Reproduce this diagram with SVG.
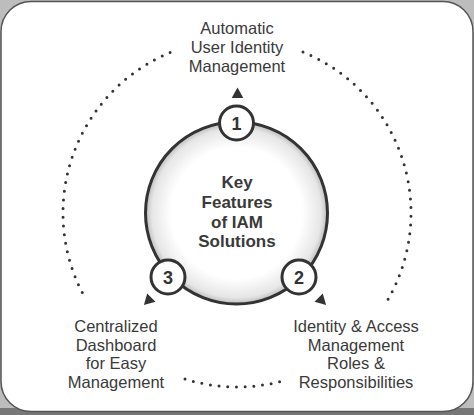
<svg xmlns="http://www.w3.org/2000/svg" width="474" height="415" viewBox="0 0 474 415">
<defs>
<radialGradient id="hub" cx="0.5" cy="0.5" r="0.5">
<stop offset="0.72" stop-color="#ffffff"/>
<stop offset="0.93" stop-color="#e6e6e6"/>
<stop offset="1" stop-color="#bdbdbd"/>
</radialGradient>
<path id="tri" d="M0,-6.5 L5.8,4 L-5.8,4 Z"/>
</defs>
<style>
.lbl{font-family:"Liberation Sans",Arial,sans-serif;font-size:16.5px;fill:#3a3a3a;text-anchor:middle}
.hubt{font-family:"Liberation Sans",Arial,sans-serif;font-size:17px;font-weight:bold;fill:#3a3a3a;text-anchor:middle}
.num{font-family:"Liberation Sans",Arial,sans-serif;font-size:18px;font-weight:bold;fill:#333;text-anchor:middle}
.dots{fill:none;stroke:#333;stroke-width:3;stroke-linecap:round;stroke-dasharray:0 8.7}
.badge{fill:#fff;stroke:#333;stroke-width:3}
.arrow{fill:#333}
</style>
<rect x="0" y="0" width="474" height="415" fill="#bdbdbd"/>
<rect x="0" y="408" width="474" height="7" fill="#777"/>
<rect x="1" y="1.5" width="472" height="410" rx="30" fill="#fff" stroke="#555" stroke-width="1.5"/>
<g id="connectors">
<path class="dots" d="M170.1,52.4 A174,174 0 0 0 84.8,297.4"/>
<path class="dots" d="M303,52 A174,174 0 0 1 387.7,300"/>
<path class="dots" d="M185,379 A174,174 0 0 0 287.9,379.4"/>
<use href="#tri" class="arrow" transform="translate(237.5,94)"/>
<use href="#tri" class="arrow" transform="translate(321.5,300.5) rotate(135)"/>
<use href="#tri" class="arrow" transform="translate(148.5,300.5) rotate(-135)"/>
</g>
<g id="hub-node">
<circle cx="236.5" cy="213" r="91" fill="url(#hub)" stroke="#333" stroke-width="3"/>
<text class="hubt" x="237" y="188">Key</text>
<text class="hubt" x="237" y="208">Features</text>
<text class="hubt" x="237" y="228">of IAM</text>
<text class="hubt" x="237" y="247">Solutions</text>
</g>
<g id="node-1">
<circle class="badge" cx="236.5" cy="123" r="17"/>
<text class="num" x="236.5" y="129.5">1</text>
<text class="lbl" x="237" y="34">Automatic</text>
<text class="lbl" x="237" y="53">User Identity</text>
<text class="lbl" x="237" y="72">Management</text>
</g>
<g id="node-2">
<circle class="badge" cx="299" cy="277" r="17"/>
<text class="num" x="299" y="283.5">2</text>
<text class="lbl" x="356" y="332">Identity &amp; Access</text>
<text class="lbl" x="356" y="350.5">Management</text>
<text class="lbl" x="356" y="369">Roles &amp;</text>
<text class="lbl" x="356" y="388">Responsibilities</text>
</g>
<g id="node-3">
<circle class="badge" cx="168" cy="277" r="17"/>
<text class="num" x="168" y="283.5">3</text>
<text class="lbl" x="116" y="332">Centralized</text>
<text class="lbl" x="116" y="350.5">Dashboard</text>
<text class="lbl" x="116" y="369">for Easy</text>
<text class="lbl" x="116" y="388">Management</text>
</g>
</svg>
